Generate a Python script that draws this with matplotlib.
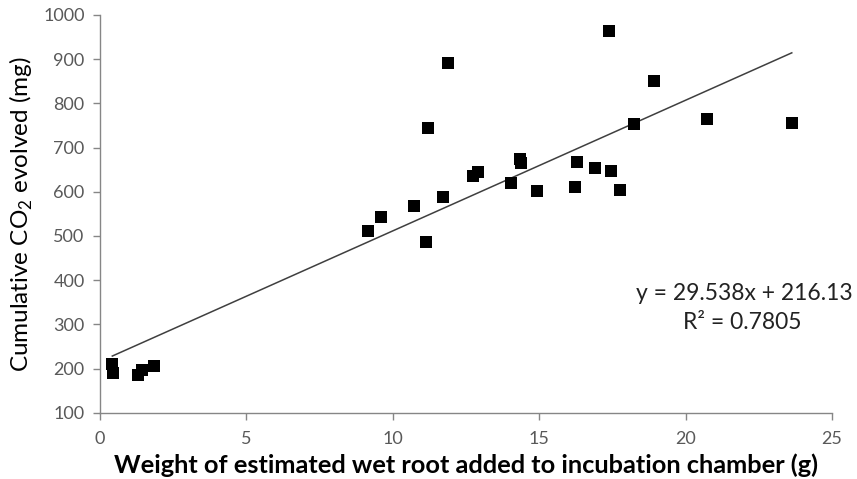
import numpy as np
import matplotlib.pyplot as plt

# root weight (g) vs cumulative CO2 (mg)
root_wt = [0.42, 0.45, 1.31, 1.43, 1.83, 9.15, 9.59, 10.71, 11.13, 11.22,
           11.70, 11.89, 12.73, 12.90, 14.04, 14.33, 14.38, 14.93, 16.23, 16.30,
           16.90, 17.37, 17.47, 17.75, 18.23, 18.93, 20.75, 23.63]
co2 = [210, 190, 186, 196, 207, 512, 542, 568, 486, 744,
       589, 890, 636, 645, 620, 675, 664, 602, 610, 667,
       654, 964, 647, 604, 753, 850, 764, 756]

slope, intercept = 29.538, 216.13
r2 = 0.7805

plt.rcParams['font.family'] = ['Lato', 'DejaVu Sans']
plt.rcParams['mathtext.fontset'] = 'custom'
plt.rcParams['mathtext.rm'] = 'Lato'

fig = plt.figure(figsize=(8.57, 4.79), dpi=100)
ax = fig.add_axes([0.1167, 0.138, 0.854, 0.831])

ax.scatter(root_wt, co2, marker='s', s=80, color='black', zorder=3, linewidths=0)

xs = np.array([min(root_wt), max(root_wt)])
ax.plot(xs, slope * xs + intercept, color='#3f3f3f', lw=1.1, zorder=2)

ax.set_xlim(0, 25)
ax.set_ylim(100, 1000)
ax.set_xticks(range(0, 26, 5))
ax.set_yticks(range(100, 1001, 100))

for s in ['top', 'right']:
    ax.spines[s].set_visible(False)
for s in ['left', 'bottom']:
    ax.spines[s].set_color('#868686')
    ax.spines[s].set_linewidth(1.0)
ax.tick_params(colors='#868686', labelcolor='#595959', labelsize=13,
               length=5, width=1.0)
ax.tick_params(axis='x', pad=8)
ax.tick_params(axis='y', pad=6)

ax.set_xlabel('Weight of estimated wet root added to incubation chamber (g)',
              fontsize=18.3, fontweight='bold', color='black', labelpad=5)
ax.set_ylabel('Cumulative CO$_\\mathrm{2}$ evolved (mg)', fontsize=17.5,
              color='black', labelpad=6)

fig.text(0.995, 0.388, f'y = {slope}x + {intercept}', ha='right', va='center',
         fontsize=16.5, color='#222222')
fig.text(0.866, 0.327, f'R² = {r2}', ha='center', va='center',
         fontsize=16.5, color='#222222')

fig.savefig('out.png', dpi=100)
